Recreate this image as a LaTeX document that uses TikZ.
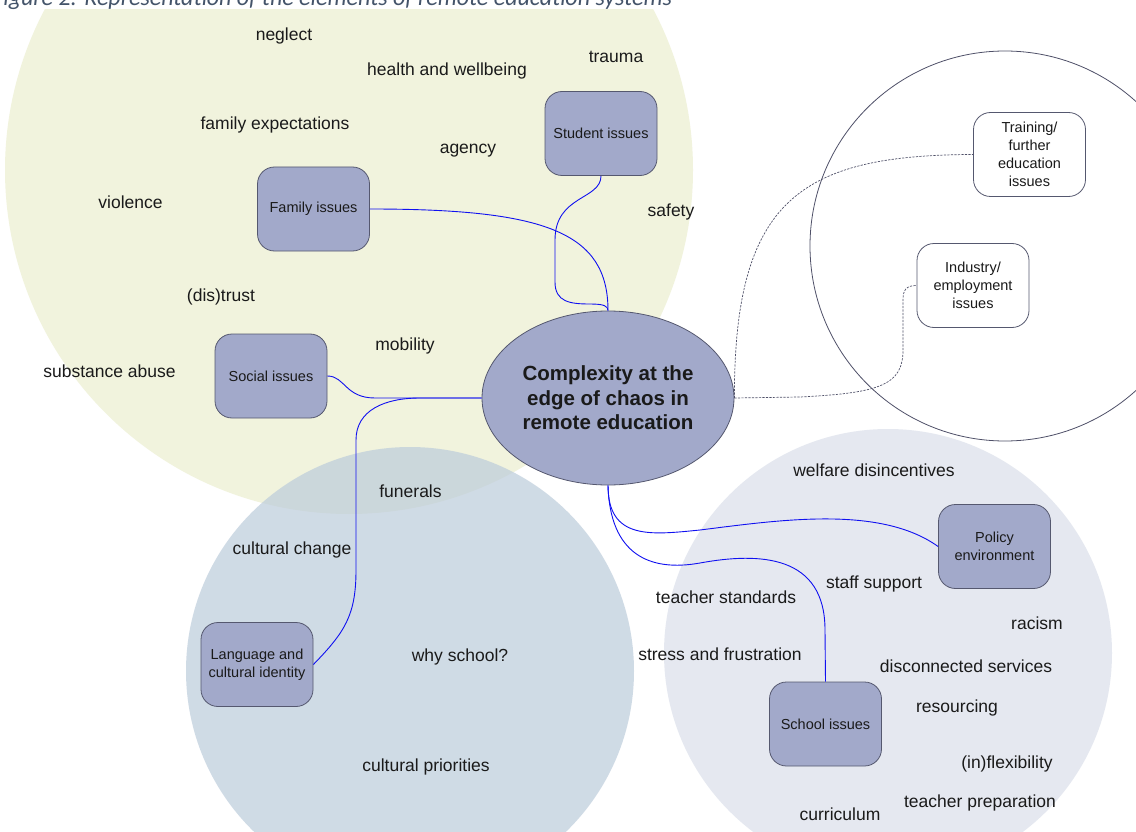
\documentclass[tikz,border=0pt]{standalone}
\usepackage{fontspec}
\setmainfont{Liberation Sans}
\newfontfamily\capfont{Carlito}
\usetikzlibrary{shapes.geometric}

\definecolor{sand}{HTML}{F1F3DD}
\definecolor{mist}{HTML}{BCCCDB}
\definecolor{pale}{HTML}{E5E8F0}
\definecolor{boxfill}{HTML}{A2A9CA}
\definecolor{boxline}{HTML}{55586F}
\definecolor{ringline}{HTML}{4F5068}
\definecolor{wire}{HTML}{1010F0}
\definecolor{capcol}{HTML}{44546A}
\definecolor{ink}{HTML}{1A1A1A}

\tikzset{
  issue/.style={draw=boxline, line width=0.8pt, fill=boxfill, rounded corners=17pt,
    minimum width=112pt, minimum height=84pt, align=center, inner sep=2pt,
    text=ink, font=\fontsize{14.5}{18}\selectfont},
  outerissue/.style={issue, fill=white},
  core/.style={ellipse, draw=boxline, line width=0.8pt, fill=boxfill,
    minimum width=252pt, minimum height=174pt, inner sep=0pt, align=center,
    text=ink, font=\bfseries\fontsize{20.5}{24.5}\selectfont},
  term/.style={anchor=base, text=ink, inner sep=0pt, font=\fontsize{17.5}{21}\selectfont},
  link/.style={draw=wire, line width=0.9pt},
  dlink/.style={draw=ringline, line width=0.7pt, dash pattern=on 2.2pt off 1.3pt},
}

\begin{document}
\begin{tikzpicture}[x=1pt,y=-1pt]
\useasboundingbox (0,0) rectangle (1136,832);
\clip (0,0) rectangle (1136,832);
\fill[white] (0,0) rectangle (1136,832);

% domain circles
\fill[sand] (349,170) circle[radius=344];
\fill[mist, fill opacity=0.7] (410,671) circle[radius=224];
\fill[pale] (888,653) circle[radius=224];
\draw[ringline, line width=0.8pt] (1005,246) circle[radius=195];

% caption band
\fill[white] (0,0) rectangle (1136,9.3);
\node[anchor=base east, inner sep=0pt, text=capcol, font=\capfont\itshape\fontsize{24}{28}\selectfont]
  (caption) at (672,6) {Figure 2: Representation of the elements of remote education systems};

% issue nodes
\node[core] (core) at (608,398) {Complexity at the\\edge of chaos in\\remote education};
\node[issue] (stu) at (601,133.5) {Student issues};
\node[issue] (fam) at (313.5,209) {Family issues};
\node[issue] (soc) at (271,376) {Social issues};
\node[issue] (lang) at (257,664.5) {Language and\\cultural identity};
\node[issue] (pol) at (994.5,546.5) {Policy\\environment};
\node[issue] (sch) at (825.5,724) {School issues};
\node[outerissue] (trn) at (1029.5,154.5) {Training/\\further\\education\\issues};
\node[outerissue] (ind) at (973,285.5) {Industry/\\employment\\issues};

% connectors
\draw[link] (stu.south) .. controls (601,200) and (555,195) .. (555,240) -- (555,282)
  .. controls (555,302) and (570,304) .. (590,304) .. controls (604,304) and (608,306) .. (core.north);
\draw[link] (fam.east) .. controls (545,209) and (608,232) .. (core.north);
\draw[link] (soc.east) .. controls (345,376) and (345,398) .. (375,398) -- (core.west);
\draw[link] (lang.east) .. controls (345,632) and (356,615) .. (356,570) -- (356,440)
  .. controls (356,410) and (385,398) .. (420,398) -- (core.west);
\draw[link] (core.south) .. controls (608,540) and (650,535) .. (700,530)
  .. controls (780,520) and (880,505) .. (pol.west);
\draw[link] (core.south) .. controls (610,555) and (650,572) .. (700,563)
  .. controls (760,552) and (825,555) .. (825,630) -- (sch.north);
\draw[dlink] (core.east) .. controls (734,200) and (800,155) .. (trn.west);
\draw[dlink] (core.east) -- (800,397) .. controls (880,393) and (903,385) .. (903,350) -- (903,300)
  .. controls (903,290) and (906,285.5) .. (ind.west);

% terms around the issues
\node[term] (t1) at (284,41) {neglect};
\node[term] (t2) at (447,76) {health and wellbeing};
\node[term] (t3) at (616,63) {trauma};
\node[term] (t4) at (275,130) {family expectations};
\node[term] (t5) at (468,154) {agency};
\node[term] (t6) at (130.5,208) {violence};
\node[term] (t7) at (671,217) {safety};
\node[term] (t8) at (221,301) {(dis)trust};
\node[term] (t9) at (405,350) {mobility};
\node[term] (t10) at (109.5,377) {substance abuse};
\node[term] (t11) at (410.5,497) {funerals};
\node[term] (t12) at (292,554) {cultural change};
\node[term] (t13) at (460,661) {why school?};
\node[term] (t14) at (426,771) {cultural priorities};
\node[term] (t15) at (874,476) {welfare disincentives};
\node[term] (t16) at (874,588) {staff support};
\node[term] (t17) at (726,603) {teacher standards};
\node[term] (t18) at (1037,629) {racism};
\node[term] (t19) at (720,660) {stress and frustration};
\node[term] (t20) at (966,672) {disconnected services};
\node[term] (t21) at (957,712) {resourcing};
\node[term] (t22) at (1007,768) {(in)flexibility};
\node[term] (t23) at (980,807) {teacher preparation};
\node[term] (t24) at (840,820) {curriculum};
\end{tikzpicture}
\end{document}
